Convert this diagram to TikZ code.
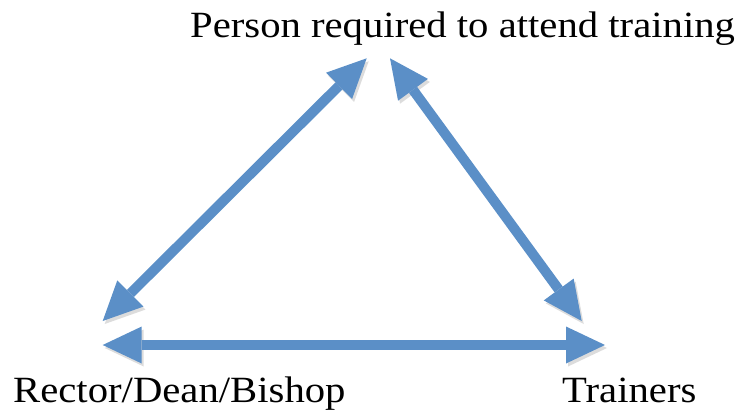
\documentclass[tikz,border=0pt]{standalone}
\usepackage{fontspec}
\setmainfont{Liberation Serif}[FakeStretch=1.1]
\usepackage{xcolor}
\usepackage{tikz}
\usetikzlibrary{arrows,arrows.meta}
\definecolor{arrowblue}{RGB}{91,143,199}
\tikzset{label text/.style={anchor=base west, inner sep=0pt, font=\fontsize{37}{44}\selectfont}}
\tikzset{both ways/.style={draw=arrowblue, line width=10pt,
  {Triangle[length=39pt,width=37pt,line width=0pt]}-{Triangle[length=39pt,width=37pt,line width=0pt]},
  preaction={draw=black!30, opacity=0.45, transform canvas={shift={(2pt,-3pt)}}}}}

\begin{document}
\begin{tikzpicture}[x=1pt,y=-1pt]
\useasboundingbox (0,0) rectangle (739,410);
\node[label text] (person) at (190,37) {Person required to attend training};
\node[label text] (rector) at (13,402) {Rector/Dean/Bishop};
\node[label text] (trainers) at (562,402) {Trainers};
\coordinate (person-l) at (366.7,58.3);
\coordinate (person-r) at (390,58.3);
\coordinate (rector-up) at (102.7,321);
\coordinate (rector-rt) at (102.7,345);
\coordinate (trainers-up) at (581.7,321);
\coordinate (trainers-lt) at (605,345);
\draw[both ways] (rector-up) -- (person-l);
\draw[both ways] (person-r) -- (trainers-up);
\draw[both ways] (rector-rt) -- (trainers-lt);
\end{tikzpicture}
\end{document}
